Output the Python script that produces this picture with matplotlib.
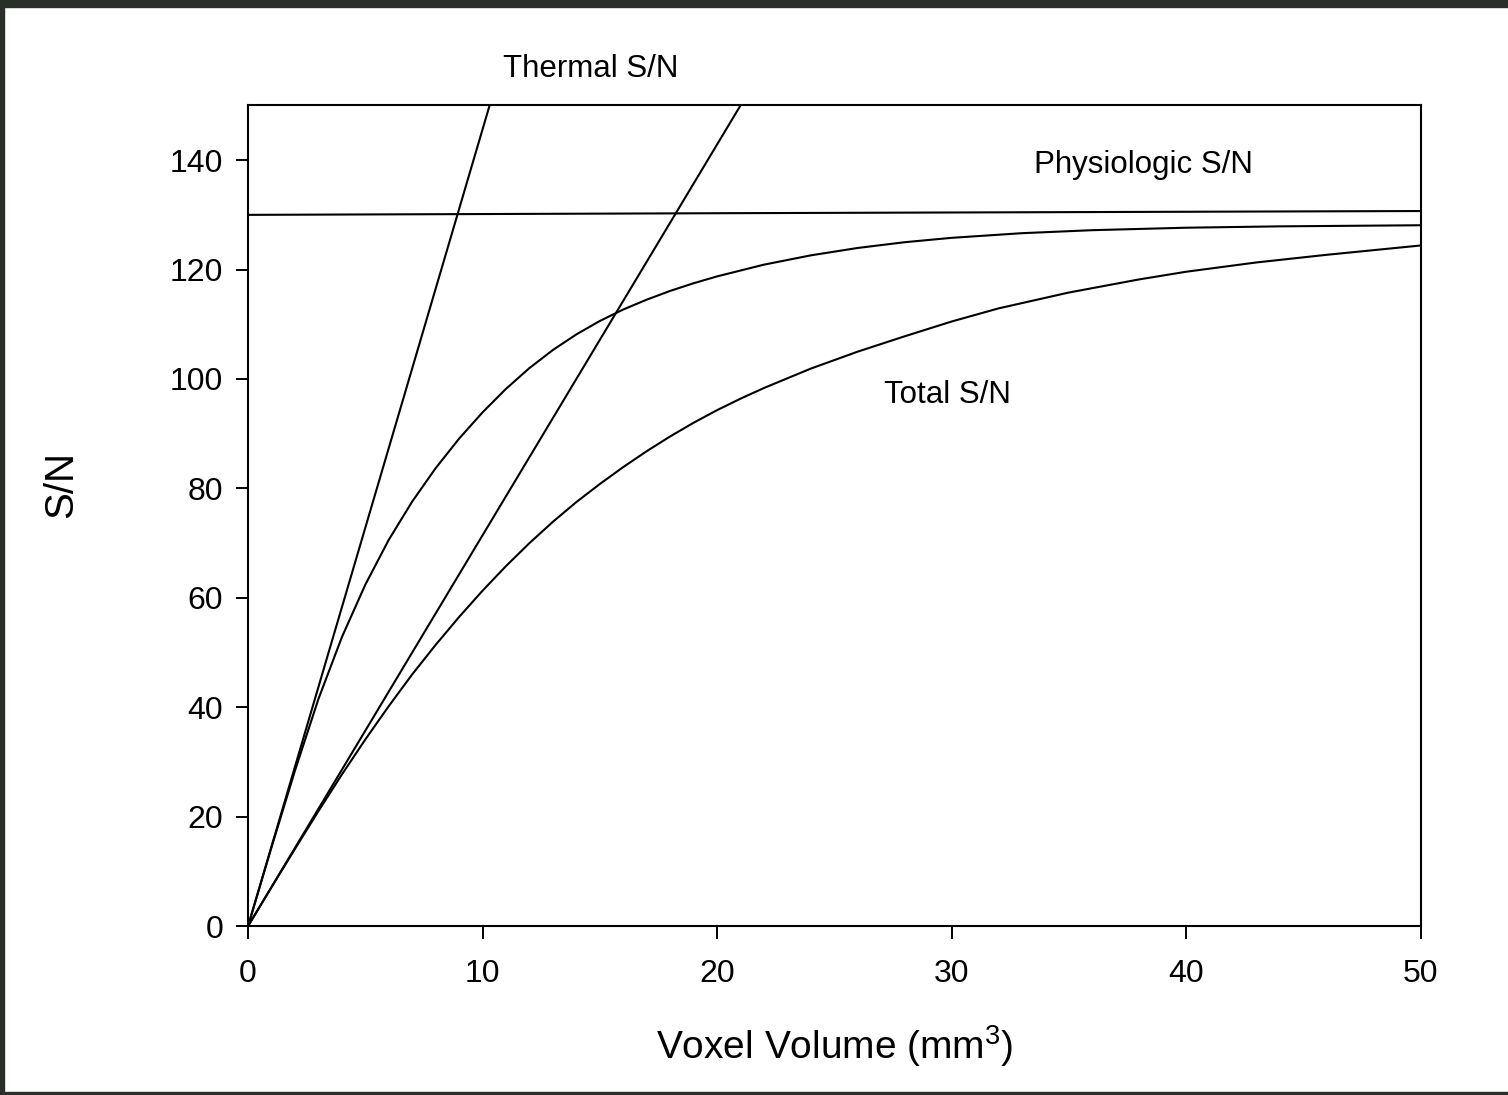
"""
S/N versus voxel volume: thermal, physiologic and total S/N curves
"""

import matplotlib
matplotlib.use('Agg')
import matplotlib.pyplot as plt
from matplotlib.patches import Rectangle

plt.rcParams['font.family'] = ['Liberation Sans', 'DejaVu Sans']
plt.rcParams['mathtext.fontset'] = 'custom'
plt.rcParams['mathtext.rm'] = 'Liberation Sans'
plt.rcParams['mathtext.it'] = 'Liberation Sans:italic'

# Thermal S/N lines (straight from the origin, clipped at the top)
thermal_hi_vol = [0, 10.3]
thermal_hi_sn = [0, 150]
thermal_lo_vol = [0, 21.0]
thermal_lo_sn = [0, 150]

# Physiologic S/N (nearly flat)
physio_vol = [0, 20, 35, 50]
physio_sn = [130.0, 130.3, 130.5, 130.7]

# Total S/N, upper curve
total_hi_vol = [0, 1, 2, 3, 4, 5, 6, 7, 8, 9, 10, 11, 12, 13, 14, 15, 16, 17, 18, 19,
                20, 22, 24, 26, 28, 30, 33, 36, 40, 44, 50]
total_hi_sn = [0, 14.4, 28.4, 41.5, 52.8, 62.4, 70.6, 77.6, 83.7, 89.1, 93.9, 98.2,
               102.0, 105.3, 108.15, 110.6, 112.7, 114.5, 116.1, 117.5, 118.75, 120.9,
               122.6, 123.95, 125.0, 125.8, 126.65, 127.2, 127.65, 127.9, 128.1]

# Total S/N, lower curve
total_lo_vol = [0, 1, 2, 3, 4, 5, 6, 7, 8, 9, 10, 11, 12, 13, 14, 15, 16, 17, 18, 19,
                20, 21, 22, 24, 26, 28, 30, 32, 35, 38, 40, 43, 46, 50]
total_lo_sn = [0, 7.1, 14.1, 21.0, 27.7, 34.1, 40.2, 46.0, 51.4, 56.5, 61.3, 65.8,
               70.0, 73.9, 77.5, 80.8, 83.9, 86.8, 89.5, 92.0, 94.3, 96.4, 98.35, 101.9,
               105.0, 107.8, 110.5, 112.9, 115.8, 118.2, 119.6, 121.3, 122.7, 124.4]

x_ticks = [0, 10, 20, 30, 40, 50]
y_ticks = [0, 20, 40, 60, 80, 100, 120, 140]

fig = plt.figure(figsize=(15.08, 10.95), dpi=100)
ax = fig.add_axes([0.1645, 0.1543, 0.942 - 0.1645, 0.9037 - 0.1543])

line_kw = dict(color='black', lw=1.5, solid_capstyle='butt', solid_joinstyle='round')
ax.plot(thermal_hi_vol, thermal_hi_sn, **line_kw)
ax.plot(thermal_lo_vol, thermal_lo_sn, **line_kw)
ax.plot(physio_vol, physio_sn, **line_kw)
ax.plot(total_hi_vol, total_hi_sn, **line_kw)
ax.plot(total_lo_vol, total_lo_sn, **line_kw)

ax.set_xlim(0, 50)
ax.set_ylim(0, 150)
ax.set_xticks(x_ticks)
ax.set_yticks(y_ticks)
ax.tick_params(direction='out', length=9, width=1.4, labelsize=23)
ax.tick_params(axis='x', pad=15)
ax.tick_params(axis='y', pad=9)
ax.tick_params(top=False, right=False)
for sp in ax.spines.values():
    sp.set_linewidth(1.5)

ax.set_xlabel('Voxel Volume (mm$^3$)', fontsize=28, labelpad=24)
ax.set_ylabel('S/N', fontsize=29)
ax.yaxis.set_label_coords(-0.143, 0.538)

# curve labels
ax.text(14.63, 155.2, 'Thermal S/N', ha='center', va='baseline', fontsize=22.5, clip_on=False)
ax.text(38.18, 137.6, 'Physiologic S/N', ha='center', va='baseline', fontsize=22.5)
ax.text(29.82, 95.7, 'Total S/N', ha='center', va='baseline', fontsize=22.5)

# dark frame around the picture
frame = '#2a2f2a'
W, H = 1508.0, 1095.0
fig.patches.append(Rectangle((0, 1 - 7 / H), 1, 7 / H, transform=fig.transFigure,
                             color=frame, zorder=10))
fig.patches.append(Rectangle((0, 0), 4 / W, 1, transform=fig.transFigure,
                             color=frame, zorder=10))
fig.patches.append(Rectangle((0, 0), 1, 3 / H, transform=fig.transFigure,
                             color=frame, zorder=10))

fig.savefig('out.png', dpi=100)
